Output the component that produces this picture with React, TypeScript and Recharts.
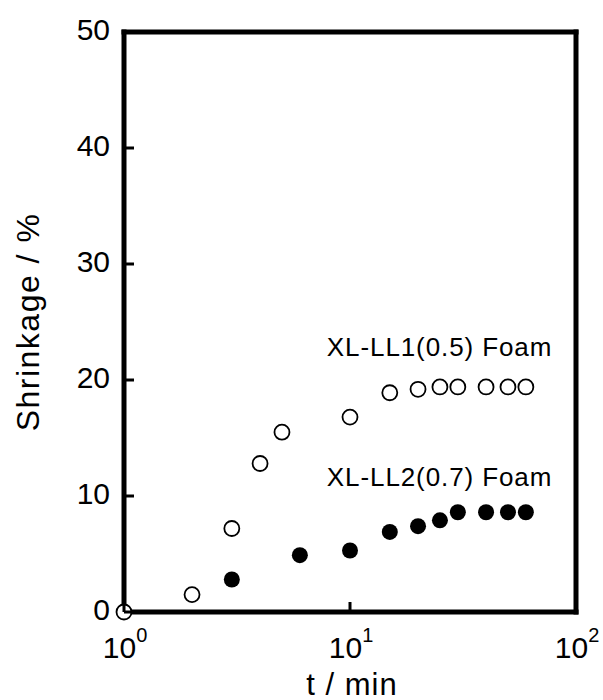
import React from 'react';
import {
  ScatterChart,
  Scatter,
  XAxis,
  YAxis,
  ReferenceDot,
  Label,
} from 'recharts';

const FONT = '"Liberation Sans", Arial, Helvetica, sans-serif';

// XL-LL1(0.5) foam, open circles
const timeLL1 = [1, 2, 3, 4, 5, 10, 15, 20, 25, 30, 40, 50, 60];
const shrinkLL1 = [0, 1.5, 7.2, 12.8, 15.5, 16.8, 18.9, 19.2, 19.4, 19.4, 19.4, 19.4, 19.4];

// XL-LL2(0.7) foam, filled circles
const timeLL2 = [3, 6, 10, 15, 20, 25, 30, 40, 50, 60];
const shrinkLL2 = [2.8, 4.9, 5.3, 6.9, 7.4, 7.9, 8.6, 8.6, 8.6, 8.6];

const xTicks = [1, 10, 100];
const yTicks = [0, 10, 20, 30, 40, 50];

const seriesNames = ['XL-LL1(0.5) Foam', 'XL-LL2(0.7) Foam'];
// where each name starts (t, shrinkage) on the chart
const nameT = [7.9, 7.9];
const nameY = [22.1, 10.9];

const dataLL1 = timeLL1.map((t, i) => ({ t, s: shrinkLL1[i] }));
const dataLL2 = timeLL2.map((t, i) => ({ t, s: shrinkLL2[i] }));

const frame = { stroke: '#000', strokeWidth: 5, strokeLinecap: 'square' as const };

const BottomTick = (props: any) => {
  const { x, y, payload } = props;
  const exp = Math.round(Math.log10(payload.value));
  return (
    <g>
      <line x1={x} x2={x} y1={y} y2={y - 10} stroke="#000" strokeWidth={3} />
      <text x={x + 1} y={y + 46} textAnchor="middle" fontSize={30} fontFamily={FONT} fill="#000">
        10<tspan dy={-16} fontSize={20}>{exp}</tspan>
      </text>
    </g>
  );
};

const TopTick = (props: any) => {
  const { x, y } = props;
  return <line x1={x} x2={x} y1={y} y2={y + 10} stroke="#000" strokeWidth={3} />;
};

const LeftTick = (props: any) => {
  const { x, y, payload } = props;
  return (
    <g>
      <line x1={x} x2={x + 10} y1={y} y2={y} stroke="#000" strokeWidth={3} />
      <text x={x - 14} y={y + 8} textAnchor="end" fontSize={30} fontFamily={FONT} fill="#000">
        {payload.value}
      </text>
    </g>
  );
};

const RightTick = (props: any) => {
  const { x, y } = props;
  return <line x1={x} x2={x - 10} y1={y} y2={y} stroke="#000" strokeWidth={3} />;
};

const openDot = (props: any) => (
  <circle cx={props.cx} cy={props.cy} r={7.5} fill="#fff" stroke="#000" strokeWidth={1.8} />
);

const filledDot = (props: any) => (
  <circle cx={props.cx} cy={props.cy} r={8} fill="#000" stroke="none" />
);

const yTitle = (props: any) => {
  const { viewBox } = props;
  const cx = viewBox.x + 28;
  const cy = viewBox.y + viewBox.height / 2;
  return (
    <text
      x={cx}
      y={cy}
      transform={`rotate(-90 ${cx} ${cy})`}
      textAnchor="middle"
      dominantBaseline="central"
      fontSize={32}
      letterSpacing={1.5}
      fontFamily={FONT}
      fill="#000"
    >
      Shrinkage / %
    </text>
  );
};

const xTitle = (props: any) => {
  const { viewBox } = props;
  return (
    <text
      x={viewBox.x + viewBox.width / 2 + 2}
      y={695}
      textAnchor="middle"
      fontSize={31}
      letterSpacing={1}
      fontFamily={FONT}
      fill="#000"
    >
      t / min
    </text>
  );
};

const nameShape = (text: string) => (props: any) => (
  <text x={props.cx} y={props.cy} fontSize={26} letterSpacing={0.9} fontFamily={FONT} fill="#000">
    {text}
  </text>
);

export default function App() {
  return (
    <div style={{ position: 'absolute', left: 0, top: 0, background: '#fff' }}>
      <ScatterChart width={603} height={700} margin={{ top: 0, right: 0, bottom: 0, left: 0 }}>
        <XAxis
          xAxisId="bottom"
          dataKey="t"
          type="number"
          scale="log"
          domain={[1, 100]}
          ticks={xTicks}
          orientation="bottom"
          height={88}
          tickSize={0}
          tickMargin={0}
          tickLine={false}
          axisLine={frame}
          tick={<BottomTick />}
          interval={0}
        >
          <Label content={xTitle} />
        </XAxis>
        <XAxis
          xAxisId="top"
          type="number"
          scale="log"
          domain={[1, 100]}
          ticks={[10]}
          orientation="top"
          height={32}
          tickSize={0}
          tickMargin={0}
          tickLine={false}
          axisLine={frame}
          tick={<TopTick />}
          interval={0}
        />
        <YAxis
          yAxisId="left"
          dataKey="s"
          type="number"
          domain={[0, 50]}
          ticks={yTicks}
          orientation="left"
          width={124}
          tickSize={0}
          tickMargin={0}
          tickLine={false}
          axisLine={frame}
          tick={<LeftTick />}
          interval={0}
        >
          <Label content={yTitle} />
        </YAxis>
        <YAxis
          yAxisId="right"
          type="number"
          domain={[0, 50]}
          ticks={[10, 20, 30, 40]}
          orientation="right"
          width={27}
          tickSize={0}
          tickMargin={0}
          tickLine={false}
          axisLine={frame}
          tick={<RightTick />}
          interval={0}
        />
        <Scatter
          xAxisId="bottom"
          yAxisId="left"
          data={dataLL2}
          shape={filledDot}
          isAnimationActive={false}
        />
        <Scatter
          xAxisId="bottom"
          yAxisId="left"
          data={dataLL1}
          shape={openDot}
          isAnimationActive={false}
        />
        {seriesNames.map((name, i) => (
          <ReferenceDot
            key={name}
            xAxisId="bottom"
            yAxisId="left"
            x={nameT[i]}
            y={nameY[i]}
            r={0}
            shape={nameShape(name)}
          />
        ))}
      </ScatterChart>
    </div>
  );
}
